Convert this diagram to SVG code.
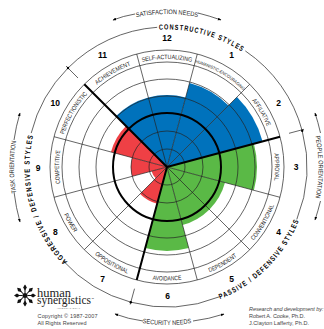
<svg xmlns="http://www.w3.org/2000/svg" width="324" height="329" viewBox="0 0 324 329">
<style>
text{font-family:"Liberation Sans",sans-serif;fill:#222}
textPath{text-anchor:middle}
.ring{fill:none;stroke:#222;stroke-width:.7}
.spoke{stroke:#222;stroke-width:.7}
.thick{stroke:#000;stroke-width:2;fill:none}
.arc{fill:none;stroke:#222;stroke-width:.7}
.lab{font-size:6.2px}
.num{font-size:8.500px;font-weight:bold;text-anchor:middle;fill:#000}
.style{font-size:7.500px;font-weight:bold;letter-spacing:1.500px;fill:#000}
.need{font-size:6.500px}
.small{font-size:5.500px;fill:#444}
.blue{fill:#0072bc}.green{fill:#5ab946}.red{fill:#ef4045}
</style>
<defs>
<path id="labcw" d="M73.500 113A108 108 0 0 1 260.500 113"/>
<path id="labccw" d="M68.700 223.800A113.500 113.500 0 0 0 265.300 223.800"/>
<path id="con" d="M69.800 69.800A137.500 137.500 0 0 1 299.800 131.400"/>
<path id="pas" d="M130.100 304.600A142.500 142.500 0 0 0 304.600 130.100"/>
<path id="agg" d="M131.400 299.800A137.500 137.500 0 0 1 69.800 69.800"/>
<path id="nsat" d="M90.500 34.500A153 153 0 0 1 243.500 34.500"/>
<path id="npeo" d="M298.200 91.200A151.500 151.500 0 0 1 298.200 242.800"/>
<path id="nsec" d="M88 303.800A158 158 0 0 0 246 303.800"/>
<path id="ntas" d="M34.500 243.500A153 153 0 0 1 34.500 90.500"/>
<marker id="ah" markerWidth="6" markerHeight="6" refX="4.500" refY="2.500" orient="auto"><path d="M0 0.500L5 2.500L0 4.500z" fill="#000"/></marker>
<g id="logoarm"><path d="M0 -2.500L0 -10" stroke="#111" stroke-width="1"/><path d="M0 -11L1.900 -8L0 -5L-1.900 -8z" fill="#111"/></g>
</defs>

<g id="scores">
<path class="blue" d="M167 167L116.100 116.100A72 72 0 0 1 185.600 97.500z"/>
<path class="blue" d="M167 167L189.500 83A87 87 0 0 1 228.500 105.500z"/>
<path class="blue" d="M167 167L237 97A99 99 0 0 1 262.600 141.400z"/>
<path class="green" d="M167 167L253.900 143.700A90 90 0 0 1 253.900 190.300z"/>
<path class="green" d="M167 167L225 182.500A60 60 0 0 1 182.500 225z"/>
<path class="green" d="M167 167L188.700 248.100A84 84 0 0 1 145.300 248.100z"/>
<path class="red" d="M167 167L157.200 203.700A38 38 0 0 1 140.100 193.900z"/>
<path class="red" d="M167 167L155.700 178.300A16 16 0 0 1 151.500 171.100z"/>
<path class="red" d="M167 167L132.200 176.300A36 36 0 0 1 132.200 157.700z"/>
<path class="red" d="M167 167L111 152A58 58 0 0 1 126 126z"/>
</g>

<g id="grid">
<circle class="ring" cx="167" cy="167" r="18"/>
<circle class="ring" cx="167" cy="167" r="36"/>
<circle class="ring" cx="167" cy="167" r="71"/>
<circle class="ring" cx="167" cy="167" r="88"/>
<circle class="ring" cx="167" cy="167" r="105"/>
<circle class="ring" cx="167" cy="167" r="117"/>
<path class="spoke" d="M167 167L197.300 54M167 167L249.700 84.300M167 167L280 197.300M167 167L249.700 249.700M167 167L197.300 280M167 167L84.300 249.700M167 167L54 197.300M167 167L54 136.700M167 167L136.700 54"/>
<circle cx="167" cy="167" r="54" fill="none" stroke="#000" stroke-width="2"/>
</g>

<g id="connectors">
<path class="thick" d="M167 167L84.300 84.300M167 167L280 136.700M167 167L136.700 280"/>
<path class="arc" d="M68 68A140 140 0 0 1 157.200 27.300M245.300 50.900A140 140 0 0 1 302.200 130.800A140 140 0 0 1 296.800 219.400M219.400 296.800A140 140 0 0 1 130.800 302.200A140 140 0 0 1 63 260.700M31.200 133.100A140 140 0 0 1 68 68"/>
<path class="spoke" d="M78 78L66 66M289 133.300L304 129.300M134.500 288.700L130.200 304.500"/>
<circle cx="68" cy="68" r="1.200" fill="#000"/><circle cx="302.200" cy="130.800" r="1.200" fill="#000"/><circle cx="130.800" cy="302.200" r="1.200" fill="#000"/>
<g fill="none" stroke="#222" stroke-width=".7" marker-end="url(#ah)">
<path d="M135 14Q123 16 113 20"/>
<path d="M198 13Q210 16 221 20"/>
<path d="M320.500 133Q318 122 315 113"/>
<path d="M320.500 201Q318 211 315 220"/>
<path d="M143 321Q128 319 115 314"/>
<path d="M193 321Q209 319 224 314"/>
<path d="M14 140Q16 126 20 113"/>
<path d="M14 192Q16 208 20 222"/>
</g>
</g>

<g id="group-labels">
<text class="style"><textPath href="#con" startOffset="50%" textLength="88" lengthAdjust="spacingAndGlyphs">CONSTRUCTIVE STYLES</textPath></text>
<text class="style"><textPath href="#pas" startOffset="50%" textLength="115" lengthAdjust="spacingAndGlyphs">PASSIVE / DEFENSIVE STYLES</textPath></text>
<text class="style"><textPath href="#agg" startOffset="50%" textLength="137" lengthAdjust="spacingAndGlyphs">AGGRESSIVE / DEFENSIVE STYLES</textPath></text>
<text class="need"><textPath href="#nsat" startOffset="50%" textLength="62" lengthAdjust="spacingAndGlyphs">SATISFACTION NEEDS</textPath></text>
<text class="need"><textPath href="#npeo" startOffset="50%" textLength="62" lengthAdjust="spacingAndGlyphs">PEOPLE ORIENTATION</textPath></text>
<text class="need"><textPath href="#nsec" startOffset="50%" textLength="49" lengthAdjust="spacingAndGlyphs">SECURITY NEEDS</textPath></text>
<text class="need"><textPath href="#ntas" startOffset="50%" textLength="52" lengthAdjust="spacingAndGlyphs">TASK ORIENTATION</textPath></text>
</g>

<g id="sector-12"><text class="lab"><textPath href="#labcw" startOffset="50%" textLength="50" lengthAdjust="spacingAndGlyphs">SELF-ACTUALIZING</textPath></text><text class="num" x="167" y="41">12</text></g>
<g id="sector-1"><text class="lab" style="font-size:4.400px" transform="rotate(30 167 167)"><textPath href="#labcw" startOffset="50%" textLength="56" lengthAdjust="spacingAndGlyphs">HUMANISTIC-ENCOURAGING</textPath></text><text class="num" x="231.500" y="58.300">1</text></g>
<g id="sector-2"><text class="lab" transform="rotate(60 167 167)"><textPath href="#labcw" startOffset="50%" textLength="30" lengthAdjust="spacingAndGlyphs">AFFILIATIVE</textPath></text><text class="num" x="278.700" y="105.500">2</text></g>
<g id="sector-3"><text class="lab" transform="rotate(90 167 167)"><textPath href="#labcw" startOffset="50%" textLength="27" lengthAdjust="spacingAndGlyphs">APPROVAL</textPath></text><text class="num" x="296" y="170">3</text></g>
<g id="sector-4"><text class="lab" transform="rotate(-60 167 167)"><textPath href="#labccw" startOffset="50%" textLength="41" lengthAdjust="spacingAndGlyphs">CONVENTIONAL</textPath></text><text class="num" x="278.700" y="234.500">4</text></g>
<g id="sector-5"><text class="lab" transform="rotate(-30 167 167)"><textPath href="#labccw" startOffset="50%" textLength="32" lengthAdjust="spacingAndGlyphs">DEPENDENT</textPath></text><text class="num" x="231.500" y="281.700">5</text></g>
<g id="sector-6"><text class="lab"><textPath href="#labccw" startOffset="50%" textLength="29" lengthAdjust="spacingAndGlyphs">AVOIDANCE</textPath></text><text class="num" x="167.500" y="299">6</text></g>
<g id="sector-7"><text class="lab" transform="rotate(30 167 167)"><textPath href="#labccw" startOffset="50%" textLength="38" lengthAdjust="spacingAndGlyphs">OPPOSITIONAL</textPath></text><text class="num" x="102.500" y="281.700">7</text></g>
<g id="sector-8"><text class="lab" transform="rotate(60 167 167)"><textPath href="#labccw" startOffset="50%" textLength="21" lengthAdjust="spacingAndGlyphs">POWER</textPath></text><text class="num" x="55.300" y="234.500">8</text></g>
<g id="sector-9"><text class="lab" transform="rotate(-90 167 167)"><textPath href="#labcw" startOffset="50%" textLength="33" lengthAdjust="spacingAndGlyphs">COMPETITIVE</textPath></text><text class="num" x="38" y="171">9</text></g>
<g id="sector-10"><text class="lab" transform="rotate(-60 167 167)"><textPath href="#labcw" startOffset="50%" textLength="47" lengthAdjust="spacingAndGlyphs">PERFECTIONISTIC</textPath></text><text class="num" x="55.300" y="105.500">10</text></g>
<g id="sector-11"><text class="lab" transform="rotate(-30 167 167)"><textPath href="#labcw" startOffset="50%" textLength="39" lengthAdjust="spacingAndGlyphs">ACHIEVEMENT</textPath></text><text class="num" x="102.500" y="58.300">11</text></g>

<g id="logo">
<g transform="translate(25 295.500)">
<circle r="2.500" fill="#111"/>
<use href="#logoarm"/><use href="#logoarm" transform="rotate(45)"/><use href="#logoarm" transform="rotate(90)"/><use href="#logoarm" transform="rotate(135)"/><use href="#logoarm" transform="rotate(180)"/><use href="#logoarm" transform="rotate(225)"/><use href="#logoarm" transform="rotate(270)"/><use href="#logoarm" transform="rotate(315)"/>
</g>
<text x="37" y="296.500" style="font-family:'Liberation Serif',serif;font-size:12.500px">human</text>
<text x="37" y="304" style="font-family:'Liberation Serif',serif;font-size:12px" textLength="54" lengthAdjust="spacingAndGlyphs">synergistics</text>
<text x="91.500" y="299.500" style="font-size:2.500px">™</text>
<text x="57" y="308.800" style="font-size:2px;letter-spacing:.6px;fill:#555">INTERNATIONAL</text>
</g>
<g id="credits">
<text class="small" x="37.500" y="318" textLength="60">Copyright © 1987-2007</text>
<text class="small" x="37.500" y="325" textLength="49">All Rights Reserved</text>
<text class="small" x="249" y="311" font-style="italic" textLength="74.500">Research and development by:</text>
<text class="small" x="249" y="317.500" textLength="56">Robert A. Cooke, Ph.D.</text>
<text class="small" x="249" y="325" textLength="60">J.Clayton Lafferty, Ph.D.</text>
</g>
</svg>
